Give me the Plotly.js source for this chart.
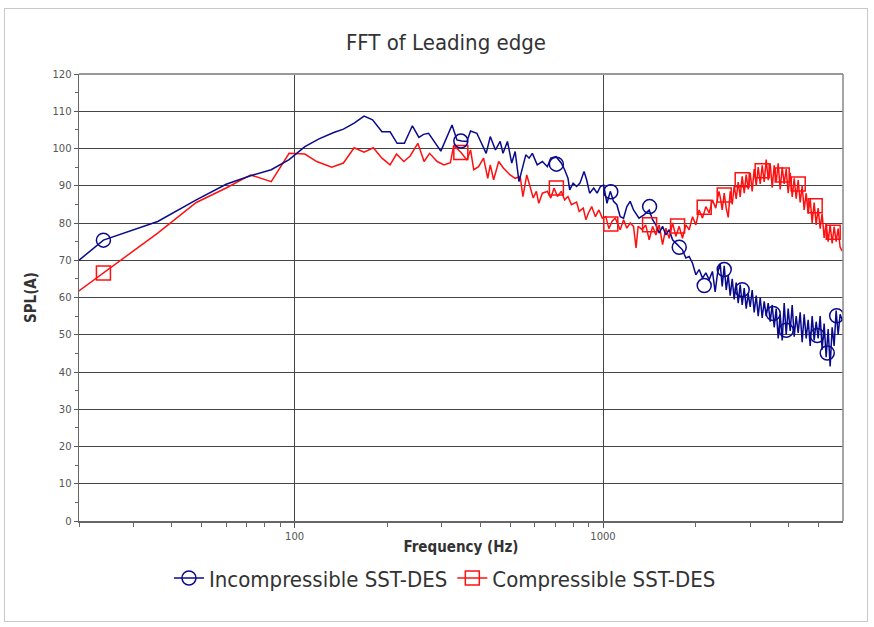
<!DOCTYPE html>
<html><head><meta charset="utf-8">
<script src="https://cdn.plot.ly/plotly-3.0.1.min.js"></script>
<style>
html,body{margin:0;padding:0;background:#fff}
#chart{width:874px;height:627px}
#frame{position:absolute;left:4px;top:8px;width:862px;height:612px;border:1px solid #c8c8c8;pointer-events:none}
</style>
</head><body><div id="chart"></div><div id="frame"></div>
<script>
// ---- data ----
const incompFreqLow = [12,24,36,48,60,72,84,96,108,120,134,144,156,168,179,192,204,215,227,241,253,262,272,298,324,336,348,362,372,390,418,431,448,464,474,490,506,519,534,549,562,576,590,612,636,660,677,704,732,751,770,780,800,821,842,868,885,905,933,957,981,1005,1030,1056,1082,1109,1137,1166,1195,1225,1256,1308,1358,1412,1448,1484,1521,1560,1599,1639,1681,1723,1766,1810,1856,1903,1951,2000,2050,2102,2155,2209,2264,2310,2351];
const incompSPLLow = [54.9,75.4,80.4,86.2,90.4,92.7,94.3,97.0,100.5,102.6,104.3,105.2,106.8,108.7,107.7,104.5,104.5,101.4,101.4,106.1,103.0,103.8,104.1,99.3,106.3,102.3,102.0,101.9,104.7,104.1,98.7,103.2,99.6,101.9,98.7,101.9,96.1,99.2,91.1,95.1,98.3,97.4,98.7,95.6,96.5,95.1,97.4,97.8,96.1,94.3,92.0,88.9,90.7,89.8,90.7,93.8,91.6,88.0,89.4,88.0,89.8,90.2,85.3,88.5,85.8,84.9,81.7,81.3,84.4,85.8,83.5,81.3,82.2,83.5,80.9,79.5,77.3,79.1,76.8,78.2,75.5,74.6,73.7,72.8,70.6,71.0,69.2,66.1,67.5,65.2,66.6,64.8,67.0,61.5,66.5];

const compFreqLow = [12,24,36,48,60,72,84,96,108,118,132,144,156,168,180,192,204,214,226,237,251,263,274,290,305,320,328,346,362,372,381,395,410,423,431,442,459,476,500,519,539,550,566,580,594,608,619,636,660,677,694,712,732,751,770,790,821,837,863,880,897,919,945,970,995,1021,1045,1070,1096,1137,1166,1195,1225,1256,1280,1300,1341,1375,1412,1448,1484,1521,1560,1599,1639,1681,1723,1766,1810,1856,1903,1951,2000,2050,2102,2155,2209,2264,2320,2377];
const compSPLLow = [48.3,66.6,77.3,85.5,89.4,92.9,91.1,98.7,98.5,96.5,95.0,96.1,100.2,99.0,100.2,97.4,95.6,98.5,96.5,98.0,101.4,96.5,98.7,96.5,95.6,96.2,100.8,99.0,96.9,99.6,94.3,95.1,97.4,92.0,95.6,91.6,96.5,94.7,92.9,92.0,92.5,87.1,92.9,89.8,86.7,88.5,85.3,88.0,88.5,86.7,89.4,87.1,88.5,86.2,87.1,84.9,85.6,83.1,84.0,80.9,82.7,84.4,81.7,83.5,81.3,81.7,78.5,80.5,81.3,78.2,80.9,78.6,80.0,79.1,73.3,79.1,78.2,79.5,75.5,79.1,76.8,79.5,74.2,78.6,75.9,80.0,76.4,79.1,75.9,79.5,78.2,81.7,79.5,83.5,81.3,84.4,82.7,86.2,84.0,88.5];

// high-frequency part (shared frequency list)
const hiFreq = [2399,2435,2472,2509,2547,2585,2624,2663,2703,2744,2785,2827,2870,2913,2957,3001,3046,3092,3139,3186,3234,3282,3332,3382,3433,3484,3537,3590,3644,3699,3754,3811,3868,3926,3985,4045,4106,4168,4230,4294,4358,4424,4490,4558,4626,4696,4766,4838,4911,4984,5059,5135,5212,5291,5370,5451,5533,5616,5700,5786,5873,5961];
const incompSPLHi = [69,63,68.5,62,66,60.5,65,59.5,64,58.5,63.5,58,62.5,57,61,57.5,62,56,60.5,55,60,54.5,59,55,58.5,53.5,58,52,57,49,55.5,48.5,58.5,50,57,51,58,49.5,55,50.5,56,48,55.5,49,54,47,55,48.5,53.5,49,55,46,53,44,51.5,41.5,52,47,56.5,50,55.5,54];
const compSPLHi = [87,83.5,88,84,81.5,88.5,85,90,86.5,91,87,92.5,88,93,89,93.5,88.5,94.5,90,95,90.5,95.5,91,97,91.5,96,89.5,95.5,91,96,89,95,90.5,94.5,88,93.5,87,92,86.5,91.5,85.5,90,83.5,88,82.5,86.5,80,85.5,79.5,84,78.5,82.5,76,80,75,79.5,74.5,79,75,78.5,73.5,72.5];

// symbol (marker) positions as seen in the reference
const incompMarkerFreq = [24,346,706,1060,1416,1767,2129,2472,2827,3563,3926,4949,5334,5722];
const incompMarkerSPL  = [75.4,102.0,95.8,88.4,84.4,73.5,63.2,67.5,62.1,55.7,51.2,49.8,45.1,55.1];
const compMarkerFreq = [24,346,706,1060,1416,1745,2129,2472,2827,3282,3811,4295,4875,5577];
const compMarkerSPL  = [66.6,98.9,89.4,79.7,79.5,79.2,84.2,87.5,91.6,94.0,92.9,90.5,84.6,77.5];

const seriesNames = ['Incompressible SST-DES','Compressible SST-DES'];
const xTickVals = [100,1000];
const xMinorVals = [20,30,40,50,60,70,80,90,200,300,400,500,600,700,800,900,2000,3000,4000,5000];

// ---- chart ----
const incompFreq = incompFreqLow.concat(hiFreq);
const incompSPL = incompSPLLow.concat(incompSPLHi);
const compFreq = compFreqLow.concat(hiFreq);
const compSPL = compSPLLow.concat(compSPLHi);

const BLUE = '#0a0a8c', RED = '#ff1010';
const FONT = '"DejaVu Sans Condensed", "DejaVu Sans", sans-serif';

const traces = [
  {x:[null], y:[null], name:seriesNames[0], mode:'lines+markers',
   line:{color:BLUE,width:1.5}, marker:{symbol:'circle-open',size:14,color:BLUE,line:{width:1.5,color:BLUE}}, hoverinfo:'skip'},
  {x:[null], y:[null], name:seriesNames[1], mode:'lines+markers',
   line:{color:RED,width:1.5}, marker:{symbol:'square-open',size:14,color:RED,line:{width:1.5,color:RED}}, hoverinfo:'skip'},
  {x:compFreq, y:compSPL, mode:'lines', line:{color:RED,width:1.5}, showlegend:false},
  {x:incompFreq, y:incompSPL, mode:'lines', line:{color:BLUE,width:1.5}, showlegend:false},
  {x:compMarkerFreq, y:compMarkerSPL, mode:'markers', showlegend:false,
   marker:{symbol:'square-open',size:14,color:RED,line:{width:1.5,color:RED}}},
  {x:incompMarkerFreq, y:incompMarkerSPL, mode:'markers', showlegend:false,
   marker:{symbol:'circle-open',size:14,color:BLUE,line:{width:1.5,color:BLUE}}}
];

const layout = {
  width:874, height:627,
  margin:{l:79, r:31, t:74, b:106},
  paper_bgcolor:'#fff', plot_bgcolor:'#fff',
  font:{family:FONT, color:'#333'},
  title:{text:'FFT of Leading edge', font:{family:FONT, size:22, color:'#333'},
         x:446/874, xref:'container', xanchor:'center', y:1-42/627, yref:'container', yanchor:'middle'},
  xaxis:{type:'log', range:[Math.log10(20), Math.log10(6000)],
         tickmode:'array', tickvals:xTickVals, ticktext:xTickVals.map(String),
         tickfont:{family:'"DejaVu Sans", sans-serif', size:10, color:'#555'},
         ticks:'outside', ticklen:5, tickcolor:'#555',
         showgrid:true, gridcolor:'#444', gridwidth:1,
         showline:true, linecolor:'#666', linewidth:1.5, zeroline:false,
         minor:{tickmode:'array', tickvals:xMinorVals, ticks:'outside', ticklen:4, tickcolor:'#666', showgrid:false},
         title:{text:'Frequency (Hz)', font:{family:FONT, size:15, color:'#333', weight:'bold'}, standoff:1}},
  yaxis:{range:[0,120], dtick:10, tick0:0,
         tickfont:{family:'"DejaVu Sans", sans-serif', size:10, color:'#555'},
         ticks:'outside', ticklen:4, tickcolor:'#555',
         showgrid:true, gridcolor:'#444', gridwidth:1,
         showline:true, linecolor:'#666', linewidth:1.5, zeroline:false,
         minor:{dtick:5, ticks:'outside', ticklen:3, tickcolor:'#666', showgrid:false},
         title:{text:'SPL(A)', font:{family:FONT, size:15, color:'#333', weight:'bold'}, standoff:12}},
  shapes:[
    {type:'line', xref:'paper', yref:'paper', x0:0, x1:1, y0:1, y1:1, line:{color:'#999', width:2}},
    {type:'line', xref:'paper', yref:'paper', x0:1, x1:1, y0:0, y1:1, line:{color:'#888', width:1.5}}
  ],
  showlegend:true,
  legend:{orientation:'h', x:0.479, xanchor:'center', y:-0.128, yanchor:'middle',
          font:{family:FONT, size:22, color:'#333'}, itemwidth:30,
          bgcolor:'rgba(0,0,0,0)', tracegroupgap:0}
};

Plotly.newPlot('chart', traces, layout, {staticPlot:true, displayModeBar:false});
</script></body></html>
